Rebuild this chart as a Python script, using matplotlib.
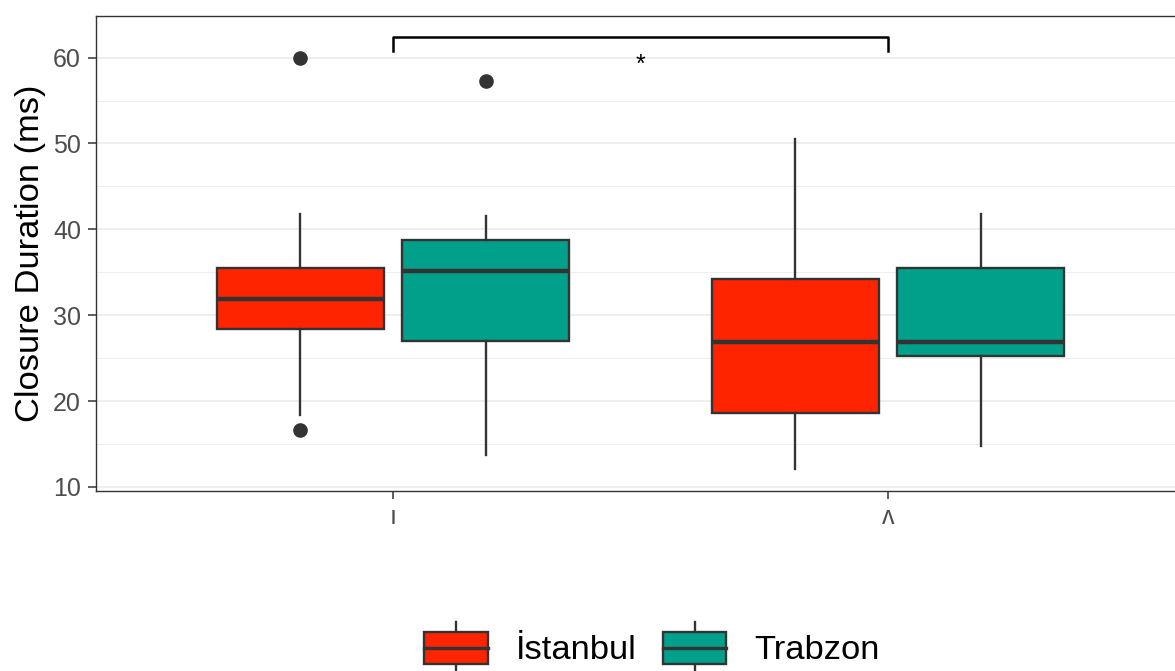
import matplotlib
matplotlib.use("Agg")
import matplotlib.pyplot as plt
from matplotlib.patches import Rectangle, Patch
from matplotlib.lines import Line2D
from matplotlib.legend_handler import HandlerBase

plt.rcParams['font.family'] = ['Liberation Sans', 'DejaVu Sans']

vowels = ["ı", "ʌ"]
cities = ["İstanbul", "Trabzon"]
fills = ["#FF2400", "#00A08A"]

# box stats, one value per vowel
q1 = {"İstanbul": [28.4, 18.65], "Trabzon": [27.0, 25.25]}
medians = {"İstanbul": [31.9, 26.9], "Trabzon": [35.1, 26.85]}
q3 = {"İstanbul": [35.5, 34.2], "Trabzon": [38.7, 35.5]}
whisk_lo = {"İstanbul": [18.4, 12.1], "Trabzon": [13.7, 14.8]}
whisk_hi = {"İstanbul": [41.8, 50.5], "Trabzon": [41.6, 41.8]}
outliers = {"İstanbul": [[60.0, 16.6], []], "Trabzon": [[57.3], []]}

# significance bracket between the two vowels
bracket_top = 62.45
bracket_tip = 60.77
sig_label = "*"
sig_y = 59.1

ink = "#333333"
dodge = [-0.1875, 0.1875]

fig = plt.figure(figsize=(11.75, 6.71), dpi=100)
ax = fig.add_axes([96 / 1175, 180 / 671, 1089 / 1175, 475 / 671])

for ci, city in enumerate(cities):
    stats = []
    for vi in range(len(vowels)):
        stats.append(dict(med=medians[city][vi], q1=q1[city][vi], q3=q3[city][vi],
                          whislo=whisk_lo[city][vi], whishi=whisk_hi[city][vi],
                          fliers=outliers[city][vi]))
    pos = [vi + 1 + dodge[ci] for vi in range(len(vowels))]
    ax.bxp(stats, positions=pos, widths=0.3375, patch_artist=True, showcaps=False,
           boxprops=dict(facecolor=fills[ci], edgecolor=ink, linewidth=1.7),
           medianprops=dict(color=ink, linewidth=3.2),
           whiskerprops=dict(color=ink, linewidth=1.7),
           flierprops=dict(marker='o', markerfacecolor=ink, markeredgecolor=ink, markersize=9.5),
           zorder=3)

ax.plot([1, 1, 2, 2], [bracket_tip, bracket_top, bracket_top, bracket_tip],
        color='black', lw=1.8, zorder=4)
ax.text(1.5, sig_y, sig_label, ha='center', va='center', fontsize=18, color='black')

ax.set_xlim(0.4, 2.6)
ax.set_ylim(9.53, 64.84)
ax.set_xticks([1, 2])
ax.set_xticklabels(vowels)
ax.set_yticks(range(10, 61, 10))
ax.set_yticks(range(15, 60, 10), minor=True)
ax.grid(which='major', axis='y', color='#EBEBEB', lw=1.2, zorder=0)
ax.grid(which='minor', axis='y', color='#EBEBEB', lw=0.6, zorder=0)
ax.set_axisbelow(True)
ax.tick_params(axis='both', which='major', length=5.8, width=1.1, color=ink,
               labelcolor='#4D4D4D', labelsize=18)
ax.tick_params(axis='y', which='major', pad=5)
ax.tick_params(axis='x', which='major', pad=4)
ax.tick_params(axis='y', which='minor', length=0)
for sp in ax.spines.values():
    sp.set_color(ink)
    sp.set_linewidth(1.0)
ax.set_ylabel("Closure Duration (ms)", fontsize=24.8, color='black', labelpad=5)


class BoxKey(HandlerBase):
    def create_artists(self, legend, orig_handle, xdescent, ydescent, width, height, fontsize, trans):
        x0, y0 = -xdescent, -ydescent
        rect = Rectangle((x0 + 0.1 * width, y0 + 0.25 * height), 0.8 * width, 0.5 * height,
                         facecolor=orig_handle.get_facecolor(), edgecolor=ink, lw=1.7, transform=trans)
        med = Line2D([x0 + 0.1 * width, x0 + 0.9 * width], [y0 + 0.5 * height] * 2,
                     color=ink, lw=2.4, transform=trans)
        wlo = Line2D([x0 + 0.5 * width] * 2, [y0 + 0.1 * height, y0 + 0.25 * height],
                     color=ink, lw=1.7, transform=trans)
        whi = Line2D([x0 + 0.5 * width] * 2, [y0 + 0.75 * height, y0 + 0.9 * height],
                     color=ink, lw=1.7, transform=trans)
        return [wlo, whi, rect, med]


handles = [Patch(facecolor=f, edgecolor=ink) for f in fills]
fig.legend(handles, cities, handler_map={Patch: BoxKey()}, loc='center',
           bbox_to_anchor=(648 / 1175, 1 - 648 / 671), bbox_transform=fig.transFigure,
           ncol=2, frameon=False, fontsize=24.8, handlelength=2.29, handleheight=2.48,
           handletextpad=0.58, columnspacing=0.55, borderpad=0, borderaxespad=0)

fig.savefig("out.png", dpi=100)
